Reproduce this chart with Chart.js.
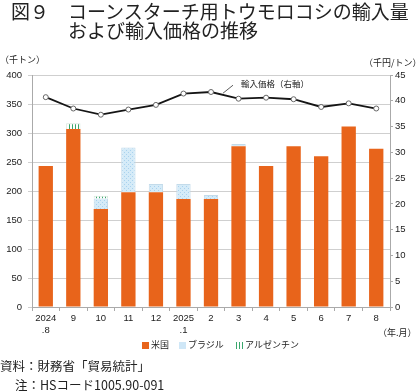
<!DOCTYPE html>
<html><head><meta charset="utf-8">
<script src="https://cdn.jsdelivr.net/npm/chart.js@4/dist/chart.umd.min.js"></script>
<style>
html,body{margin:0;padding:0;background:#fff;}
body{width:420px;height:391px;position:relative;overflow:hidden;font-family:'Noto Sans CJK JP',sans-serif;color:#222;}
#c{position:absolute;left:0;top:0;}
.t{position:absolute;white-space:nowrap;}
.leg{position:absolute;top:339px;font-size:9px;line-height:12px;white-space:nowrap;}
.sw{display:inline-block;width:7px;height:7px;margin-right:2px;vertical-align:-0.5px;}
</style></head><body>
<canvas id="c" width="420" height="391"></canvas>
<div class="t" style="left:11px;top:1px;font-size:19px;line-height:19px;">図９　コーンスターチ用トウモロコシの輸入量</div>
<div class="t" style="left:68px;top:20px;font-size:19px;line-height:19px;">および輸入価格の推移</div>
<div class="t" style="left:0px;top:54px;font-size:9px;line-height:12px;">（千トン）</div>
<div class="t" style="left:364px;top:57px;font-size:9px;line-height:12px;">（千円/トン）</div>
<div class="t" style="left:378px;top:327px;font-size:9px;line-height:12px;">（年.月）</div>
<div class="leg" style="left:142px;"><span class="sw" style="background:#e8641b"></span>米国</div>
<div class="leg" style="left:179px;"><span class="sw" style="background:#cfe7f7;border:0 solid #aac"></span>ブラジル</div>
<div class="leg" style="left:236px;"><span class="sw" style="background:repeating-linear-gradient(90deg,#3aa76d 0 1px,#fff 1px 3px)"></span>アルゼンチン</div>
<div class="t" style="left:0px;top:359px;font-size:12.5px;line-height:13px;">資料：財務省「貿易統計」</div>
<div class="t" style="left:15px;top:378px;font-size:12.5px;line-height:13px;">注：HSコード1005.90-091</div>
<script>
const categories = [['2024','.8'],'9','10','11','12',['2025','.1'],'2','3','4','5','6','7','8'];
const usVolume = [243,307,169,198,198,186,186,277,243,277,260,311,273];
const brazilVolume = [null,null,18,77,14,26,7,4,null,null,null,null,null];
const argentinaVolume = [null,10,5,null,null,null,null,null,null,null,null,null,null];
const importPrice = [40.7,38.5,37.3,38.3,39.2,41.4,41.7,40.4,40.6,40.3,38.8,39.5,38.5];
const seriesNames = ['米国','ブラジル','アルゼンチン','輸入価格'];
const priceLabel = '輸入価格（右軸）';

function makePattern(draw, w, h){
  const p = document.createElement('canvas'); p.width=w; p.height=h;
  const g = p.getContext('2d'); draw(g);
  return document.getElementById('c').getContext('2d').createPattern(p,'repeat');
}
const brazilFill = makePattern(g=>{
  g.fillStyle='#d5ebf8'; g.fillRect(0,0,4,4);
  g.fillStyle='#a9d2ee'; g.fillRect(0,0,1,1); g.fillRect(2,2,1,1);
},4,4);
const argFill = makePattern(g=>{
  g.fillStyle='#ffffff'; g.fillRect(0,0,3,3);
  g.fillStyle='#3aa76d'; g.fillRect(0,0,1,3);
},3,3);

const annot = {
  id:'annot',
  afterDatasetsDraw(chart){
    const meta = chart.getDatasetMeta(3);
    const a = meta.data[6], b = meta.data[7];
    const sx = a.x + (b.x-a.x)*0.4, sy = a.y + (b.y-a.y)*0.4;
    const ctx = chart.ctx;
    ctx.save();
    ctx.strokeStyle='#333'; ctx.lineWidth=0.8;
    ctx.beginPath(); ctx.moveTo(sx+1, sy-1.5); ctx.lineTo(sx+11, sy-9.5); ctx.stroke();
    ctx.font='8.5px "Noto Sans CJK JP"'; ctx.fillStyle='#222'; ctx.textBaseline='middle'; ctx.textAlign='left';
    ctx.fillText(priceLabel, sx+19, sy-10.5);
    ctx.restore();
  }
};

const tickFont = {family:"'Liberation Sans', Arial, sans-serif", size:9.5};
new Chart(document.getElementById('c'), {
  data:{
    labels:categories,
    datasets:[
      {type:'bar',label:seriesNames[0],data:usVolume,backgroundColor:'#e8641b',borderWidth:0,yAxisID:'y',order:1,barPercentage:0.52,categoryPercentage:1},
      {type:'bar',label:seriesNames[1],data:brazilVolume,backgroundColor:brazilFill,borderColor:'#c3dbea',borderWidth:1,yAxisID:'y',order:1,barPercentage:0.52,categoryPercentage:1},
      {type:'bar',label:seriesNames[2],data:argentinaVolume,backgroundColor:argFill,borderColor:'#d6e6dc',borderWidth:1,yAxisID:'y',order:1,barPercentage:0.52,categoryPercentage:1},
      {type:'line',label:seriesNames[3],data:importPrice,yAxisID:'y1',order:0,borderColor:'#151515',borderWidth:1.8,pointRadius:2.5,pointBackgroundColor:'#fff',pointBorderColor:'#666',pointBorderWidth:1,tension:0}
    ]
  },
  options:{
    responsive:false, animation:false, devicePixelRatio:1,
    layout:{padding:{top:75,bottom:54,left:0,right:0}},
    plugins:{legend:{display:false},tooltip:{enabled:false}},
    scales:{
      x:{stacked:true,
         grid:{drawOnChartArea:false,drawTicks:true,tickLength:4,color:'#aaa',offset:true},
         border:{display:true,color:'#aaa'},
         ticks:{font:tickFont,color:'#222',maxRotation:0,autoSkip:false,padding:2},
         afterFit(s){s.height=30;}},
      y:{stacked:true,position:'left',min:0,max:400,
         ticks:{stepSize:50,font:tickFont,color:'#222',padding:6},
         grid:{color:'#cfcfcf',tickLength:4,drawTicks:true},
         border:{display:true,color:'#aaa'},
         afterFit(s){s.width=32;}},
      y1:{position:'right',min:0,max:45,
         ticks:{stepSize:5,font:tickFont,color:'#222',padding:2},
         grid:{drawOnChartArea:false,tickLength:3,color:'#aaa'},
         border:{display:true,color:'#aaa'},
         afterFit(s){s.width=30;}}
    }
  },
  plugins:[annot]
});
</script>
</body></html>
